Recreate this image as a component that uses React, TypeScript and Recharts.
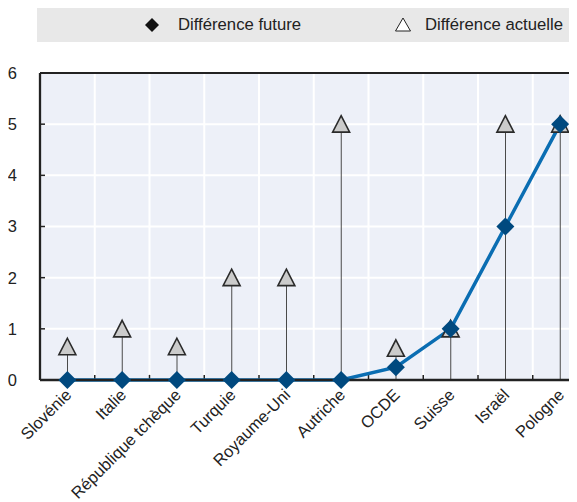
import React from 'react';
import { ComposedChart, Line, Bar, Scatter, XAxis, YAxis, CartesianGrid, ReferenceLine, Legend } from 'recharts';

const categories = ['Slovénie', 'Italie', 'République tchèque', 'Turquie', 'Royaume-Uni', 'Autriche', 'OCDE', 'Suisse', 'Israël', 'Pologne'];
const futureValues = [0, 0, 0, 0, 0, 0, 0.25, 1, 3, 5];
const currentValues = [0.65, 1, 0.65, 2, 2, 5, 0.62, 1, 5, 5];
const yTicks = [0, 1, 2, 3, 4, 5, 6];
const centerTicks = categories.map((_, i) => i + 0.5);
const boundaryTicks = [1, 2, 3, 4, 5, 6, 7, 8, 9];
const legendLabels = ['Différence future', 'Différence actuelle'];

const data = categories.map((name, i) => ({ x: i + 0.5, name, future: futureValues[i], current: currentValues[i] }));

const FONT = 'Arial, "Liberation Sans", Helvetica, sans-serif';
const LINE_COLOR = '#0a6db2';
const DIAMOND_COLOR = '#00497f';

const Diamond = (props: any) => {
  const { cx, cy, index } = props;
  if (cx == null || cy == null) return null;
  const r = 9;
  return <path key={`d-${index}`} d={`M${cx},${cy - r}L${cx + r},${cy}L${cx},${cy + r}L${cx - r},${cy}Z`} fill={DIAMOND_COLOR} />;
};

const Triangle = (props: any) => {
  const { cx, cy } = props;
  if (cx == null || cy == null) return null;
  return (
    <path
      d={`M${cx},${cy - 8.5}L${cx + 8.5},${cy + 8}L${cx - 8.5},${cy + 8}Z`}
      fill="#cbcbcb"
      stroke="#2a2a2a"
      strokeWidth={1.6}
      strokeLinejoin="miter"
    />
  );
};

const XTick = (props: any) => {
  const { x, y, payload } = props;
  const label = categories[Math.round(payload.value - 0.5)];
  return (
    <g transform={`translate(${x + 5},${y + 16})`}>
      <text transform="rotate(-45)" textAnchor="end" fontSize={16.5} fontFamily={FONT} fill="#222">
        {label}
      </text>
    </g>
  );
};

const YTick = (props: any) => {
  const { x, y, payload } = props;
  return (
    <g>
      <line x1={x} x2={x + 5} y1={y} y2={y} stroke="#222" strokeWidth={1.5} />
      <text x={x - 23} y={y} dy="0.36em" textAnchor="end" fontSize={16.5} fontFamily={FONT} fill="#222">
        {payload.value}
      </text>
    </g>
  );
};

const LegendContent = () => (
  <div style={{ position: 'relative', width: 545, height: 34, background: '#e8e8e8', fontFamily: FONT, fontSize: 16.7, color: '#222' }}>
    <svg style={{ position: 'absolute', left: 107, top: 9 }} width={16} height={16}>
      <path d="M8,1L15,8L8,15L1,8Z" fill="#111" />
    </svg>
    <span style={{ position: 'absolute', left: 141, top: 7, lineHeight: '19px' }}>{legendLabels[0]}</span>
    <svg style={{ position: 'absolute', left: 357, top: 8 }} width={18} height={18}>
      <path d="M9,2L16.5,15L1.5,15Z" fill="#fff" stroke="#222" strokeWidth={1} />
    </svg>
    <span style={{ position: 'absolute', left: 388, top: 7, lineHeight: '19px' }}>{legendLabels[1]}</span>
  </div>
);

const verticalLines = ({ offset }: any) => boundaryTicks.map((t) => offset.left + (offset.width * t) / 10);

export default function App() {
  return (
    <div style={{ width: 569, height: 494, overflow: 'hidden', position: 'relative' }}>
      <ComposedChart width={600} height={494} data={data} margin={{ top: 65, right: 20.5, bottom: 12, left: 0 }}>
        <CartesianGrid
          stroke="#ffffff"
          strokeWidth={2}
          fill="#edf0f8"
          fillOpacity={1}
          verticalCoordinatesGenerator={verticalLines}
        />
        <XAxis
          dataKey="x"
          type="number"
          domain={[0, 10]}
          ticks={centerTicks}
          interval={0}
          axisLine={{ stroke: '#222', strokeWidth: 2.7 }}
          tickLine={false}
          tickSize={0}
          tickMargin={0}
          height={110}
          tick={<XTick />}
        />
        <YAxis
          type="number"
          domain={[0, 6]}
          ticks={yTicks}
          interval={0}
          width={32}
          tickLine={false}
          tickSize={0}
          tickMargin={0}
          axisLine={{ stroke: '#222', strokeWidth: 2.3 }}
          tick={<YTick />}
        />
        <ReferenceLine y={6} stroke="#222" strokeWidth={2} />
        {boundaryTicks.map((t) => (
          <ReferenceLine key={`bt-${t}`} segment={[{ x: t, y: 0 }, { x: t, y: 0.1 }]} stroke="#222" strokeWidth={1.5} />
        ))}
        <Legend layout="horizontal" verticalAlign="middle" align="center" wrapperStyle={{ position: 'absolute', top: 0, left: 29, width: 545, height: 34 }} content={<LegendContent />} />
        <Bar dataKey="current" barSize={1} fill="#4a4a4a" isAnimationActive={false} legendType="none" />
        <Line dataKey="future" type="linear" stroke={LINE_COLOR} strokeWidth={3.5} dot={<Diamond />} activeDot={false} isAnimationActive={false} />
        <Scatter dataKey="current" shape={<Triangle />} isAnimationActive={false} />
      </ComposedChart>
    </div>
  );
}
